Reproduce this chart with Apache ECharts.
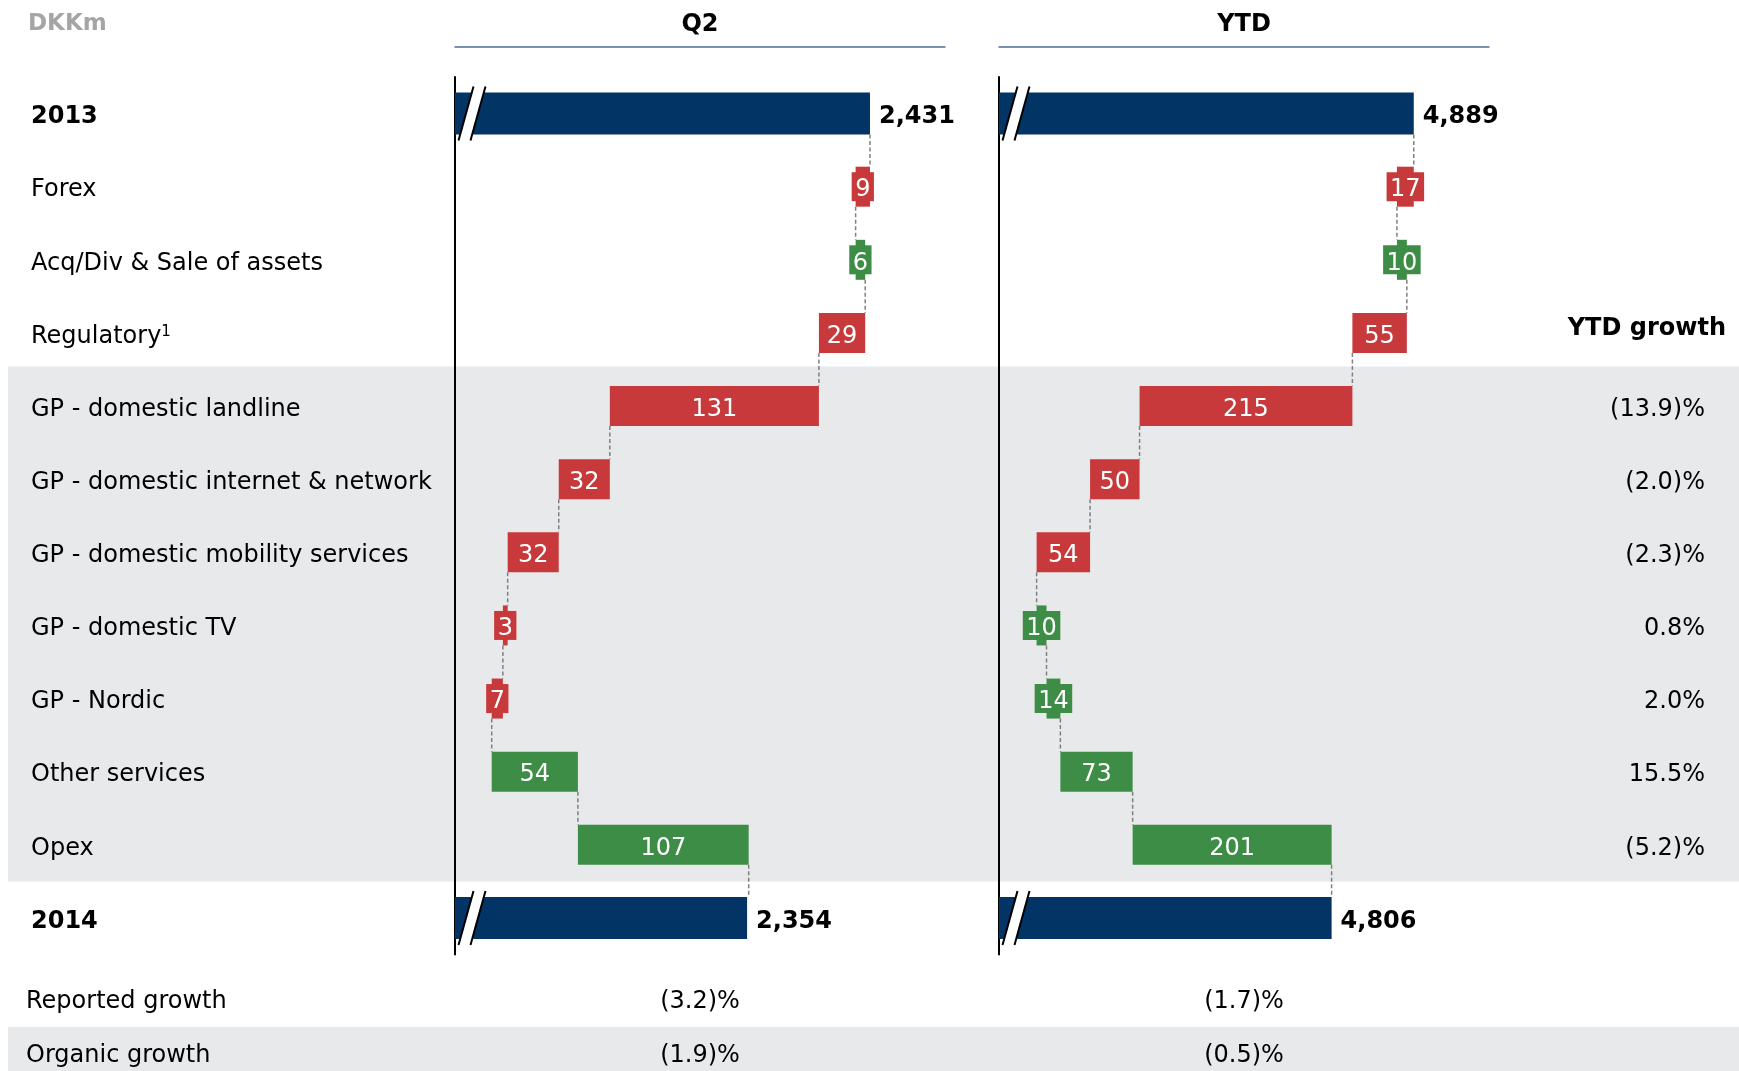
<!DOCTYPE html>
<html>
<head>
<meta charset="utf-8">
<script src="https://cdn.jsdelivr.net/npm/echarts@6/dist/echarts.min.js"></script>
<style>
  html, body { margin: 0; padding: 0; background: #ffffff; }
  #chart { width: 1739px; height: 1071px; }
</style>
</head>
<body>
<div id="chart"></div>
<script>
// ---- data -------------------------------------------------------------
const categories = [
  '2013', 'Forex', 'Acq/Div & Sale of assets', 'Regulatory',
  'GP - domestic landline', 'GP - domestic internet & network',
  'GP - domestic mobility services', 'GP - domestic TV', 'GP - Nordic',
  'Other services', 'Opex', '2014'
];
const categoryNotes = ['', '', '', '1', '', '', '', '', '', '', '', ''];
// first and last entries are totals, the rest are changes (DKKm)
const q2Values  = [2431, -9, 6, -29, -131, -32, -32, -3, -7, 54, 107, 2354];
const ytdValues = [4889, -17, 10, -55, -215, -50, -54, 10, 14, 73, 201, 4806];
const ytdGrowth = ['', '', '', '', '(13.9)%', '(2.0)%', '(2.3)%', '0.8%', '2.0%', '15.5%', '(5.2)%', ''];
const panelTitles = ['Q2', 'YTD'];
const growthHeader = 'YTD growth';
const unitLabel = 'DKKm';
const summaryLabels = ['Reported growth', 'Organic growth'];
const reportedGrowth = ['(3.2)%', '(1.7)%'];
const organicGrowth = ['(1.9)%', '(0.5)%'];
// broken value axes (bars start at the break)
const q2Range = [2171, 2478];
const ytdRange = [4470, 4965];

// ---- styling ----------------------------------------------------------
const FONT = '"DejaVu Sans", Verdana, sans-serif';
const NAVY = '#023466';
const RED = '#C8393B';
const GREEN = '#3E8D47';
const BAND = '#E8E9EB';
const GRID_TOP = 77, GRID_H = 877.5, GRID_W = 490;
const Q2_LEFT = 455, YTD_LEFT = 999;
const TEXT_DY = 3.5;   // optical centring of text on its row

const measureCtx = document.createElement('canvas').getContext('2d');
measureCtx.font = '24px ' + FONT;
const textWidth = t => measureCtx.measureText(t).width;

// [row, from, to, isTotal, labelValue]
function waterfallSteps(values, axisMin) {
  const last = values.length - 1;
  let run = 0;
  return values.map((v, i) => {
    if (i === 0 || i === last) { run = v; return [i, axisMin, v, 1, v]; }
    const from = run;
    run += v;
    return [i, from, run, 0, Math.abs(v)];
  });
}

const barHeight = (isTotal, band) => band * (isTotal ? 0.575 : 0.547);

function waterfallRenderer(data) {
  return function (params, api) {
    const idx = params.dataIndex;
    const [row, from, to, isTotal, labelValue] = data[idx];
    const band = api.size([0, 1])[1];
    const pa = api.coord([from, row]);
    const pb = api.coord([to, row]);
    const yc = pa[1];
    const h = barHeight(isTotal, band);
    const x0 = Math.min(pa[0], pb[0]);
    const w = Math.abs(pb[0] - pa[0]);
    const color = isTotal ? NAVY : (to >= from ? GREEN : RED);
    const children = [{
      type: 'rect',
      shape: { x: x0, y: yc - h / 2, width: w, height: h },
      style: { fill: color }
    }];
    if (isTotal) {
      // axis-break mark across the bar
      const bx = pa[0], top = yc - h / 2 - 6, bot = yc + h / 2 + 6;
      children.push({
        type: 'polygon',
        shape: { points: [[bx + 3.5, bot], [bx + 18.5, top], [bx + 30.5, top], [bx + 15.5, bot]] },
        style: { fill: '#ffffff' }
      });
      children.push({ type: 'line', shape: { x1: bx + 3.5, y1: bot, x2: bx + 18.5, y2: top },
        style: { stroke: '#000', lineWidth: 2 } });
      children.push({ type: 'line', shape: { x1: bx + 15.5, y1: bot, x2: bx + 30.5, y2: top },
        style: { stroke: '#000', lineWidth: 2 } });
      children.push({
        type: 'text',
        style: {
          text: labelValue.toLocaleString('en-US'), x: pb[0] + 9, y: yc + TEXT_DY,
          align: 'left', verticalAlign: 'middle',
          fontFamily: FONT, fontSize: 24, fontWeight: 'bold', fill: '#000'
        }
      });
    } else {
      const txt = String(labelValue);
      const tw = textWidth(txt);
      const cx = x0 + w / 2;
      if (w < tw + 8) {
        // label plate for bars narrower than their value
        children.push({
          type: 'rect',
          shape: { x: cx - (tw + 7) / 2, y: yc - 14.5, width: tw + 7, height: 29 },
          style: { fill: color }
        });
      }
      children.push({
        type: 'text',
        style: {
          text: txt, x: cx, y: yc + TEXT_DY, align: 'center', verticalAlign: 'middle',
          fontFamily: FONT, fontSize: 24, fill: '#ffffff'
        }
      });
    }
    if (idx < data.length - 1) {
      const hn = barHeight(data[idx + 1][3], band);
      children.push({
        type: 'line',
        shape: { x1: pb[0], y1: yc + h / 2, x2: pb[0], y2: yc + band - hn / 2 },
        style: { stroke: '#808080', lineWidth: 1.5, lineDash: [4, 2.5] }
      });
    }
    return { type: 'group', children };
  };
}

const q2Steps = waterfallSteps(q2Values, q2Range[0]);
const ytdSteps = waterfallSteps(ytdValues, ytdRange[0]);

const shadedRows = ytdGrowth.map((g, i) => (g ? i : -1)).filter(i => i >= 0);
const shadedSpan = [[shadedRows[0], shadedRows[shadedRows.length - 1]]];

function valueAxis(gridIndex, range, title) {
  return {
    type: 'value', gridIndex, min: range[0], max: range[1],
    position: 'top', offset: 30,
    axisLine: { show: true, onZero: false, lineStyle: { color: '#4E6E9C', width: 1.5 } },
    axisTick: { show: false }, axisLabel: { show: false }, splitLine: { show: false },
    name: title, nameLocation: 'middle', nameGap: 10,
    nameTextStyle: { fontFamily: FONT, fontSize: 24, fontWeight: 'bold', color: '#000' }
  };
}

const labelRich = {
  n: { fontFamily: FONT, fontSize: 24, color: '#000' },
  b: { fontFamily: FONT, fontSize: 24, color: '#000', fontWeight: 'bold' },
  s: { fontFamily: FONT, fontSize: 15, color: '#000', verticalAlign: 'top' },
  g: { fontFamily: FONT, fontSize: 24, color: '#000', padding: [TEXT_DY * 2, 0, 0, 0] }
};

const option = {
  animation: false,
  backgroundColor: '#ffffff',
  grid: [
    { left: Q2_LEFT, top: GRID_TOP, width: GRID_W, height: GRID_H, containLabel: false, outerBoundsMode: 'none' },
    { left: YTD_LEFT, top: GRID_TOP, width: GRID_W, height: GRID_H, containLabel: false, outerBoundsMode: 'none' }
  ],
  xAxis: [valueAxis(0, q2Range, panelTitles[0]), valueAxis(1, ytdRange, panelTitles[1])],
  yAxis: [
    {
      type: 'category', gridIndex: 0, inverse: true, data: categories,
      axisLine: { show: true, lineStyle: { color: '#000', width: 2 } },
      axisTick: { show: false }, splitLine: { show: false },
      axisLabel: {
        interval: 0, margin: Q2_LEFT - 31, align: 'left', rich: labelRich,
        padding: [TEXT_DY * 2, 0, 0, 0],
        formatter: (v, i) => {
          const style = (i === 0 || i === categories.length - 1) ? 'b' : 'n';
          return '{' + style + '|' + v + '}' + (categoryNotes[i] ? '{s|' + categoryNotes[i] + '}' : '');
        }
      }
    },
    {
      type: 'category', gridIndex: 1, inverse: true, data: categories,
      axisLine: { show: true, lineStyle: { color: '#000', width: 2 } },
      axisTick: { show: false }, axisLabel: { show: false }, splitLine: { show: false }
    },
    {
      type: 'category', gridIndex: 1, inverse: true, data: categories, position: 'right',
      axisLine: { show: false }, axisTick: { show: false }, splitLine: { show: false },
      axisLabel: {
        interval: 0, margin: 216, align: 'right', rich: labelRich,
        formatter: (v, i) => (ytdGrowth[i] ? '{g|' + ytdGrowth[i] + '}' : '')
      }
    }
  ],
  series: [
    {
      type: 'custom', name: 'rowShading', xAxisIndex: 0, yAxisIndex: 0, z: -5, silent: true,
      data: shadedSpan,
      renderItem: (params, api) => {
        const band = api.size([0, 1])[1];
        const y1 = api.coord([q2Range[0], api.value(0)])[1] - band / 2 - 3;
        const y2 = api.coord([q2Range[0], api.value(1)])[1] + band / 2;
        return { type: 'rect', shape: { x: 8, y: y1, width: api.getWidth() - 8, height: y2 - y1 },
          style: { fill: BAND } };
      }
    },
    {
      type: 'custom', name: 'Q2', xAxisIndex: 0, yAxisIndex: 0, silent: true,
      data: q2Steps, renderItem: waterfallRenderer(q2Steps)
    },
    {
      type: 'custom', name: 'YTD', xAxisIndex: 1, yAxisIndex: 1, silent: true,
      data: ytdSteps, renderItem: waterfallRenderer(ytdSteps)
    }
  ]
};

const chart = echarts.init(document.getElementById('chart'), null, { renderer: 'canvas' });
chart.setOption(option);

// header and summary rows placed from the axes' own positions
const headerRow = categories[shadedRows[0] - 1];
const headerY = chart.convertToPixel({ yAxisIndex: 2 }, headerRow) - 8 + TEXT_DY;
const panelCentres = [
  chart.convertToPixel({ xAxisIndex: 0 }, (q2Range[0] + q2Range[1]) / 2),
  chart.convertToPixel({ xAxisIndex: 1 }, (ytdRange[0] + ytdRange[1]) / 2)
];
const summaryY = [998 + TEXT_DY, 1052 + TEXT_DY];
const textStyle = (extra) => Object.assign({ fontFamily: FONT, fontSize: 24, fill: '#000', verticalAlign: 'middle' }, extra);
const graphic = [
  { type: 'text', left: 28, top: 13, style: { text: unitLabel, fontFamily: FONT, fontSize: 23, fontWeight: 'bold', fill: '#A5A5A5' } },
  { type: 'text', x: 1726, y: headerY, style: textStyle({ text: growthHeader, fontWeight: 'bold', align: 'right' }) },
  { type: 'rect', z: -10, shape: { x: 8, y: 1027, width: 1731, height: 44 }, style: { fill: BAND } }
];
[reportedGrowth, organicGrowth].forEach((vals, r) => {
  graphic.push({ type: 'text', x: 26, y: summaryY[r], style: textStyle({ text: summaryLabels[r], align: 'left' }) });
  vals.forEach((v, p) => {
    graphic.push({ type: 'text', x: panelCentres[p], y: summaryY[r], style: textStyle({ text: v, align: 'center' }) });
  });
});
chart.setOption({ graphic });
</script>
</body>
</html>
